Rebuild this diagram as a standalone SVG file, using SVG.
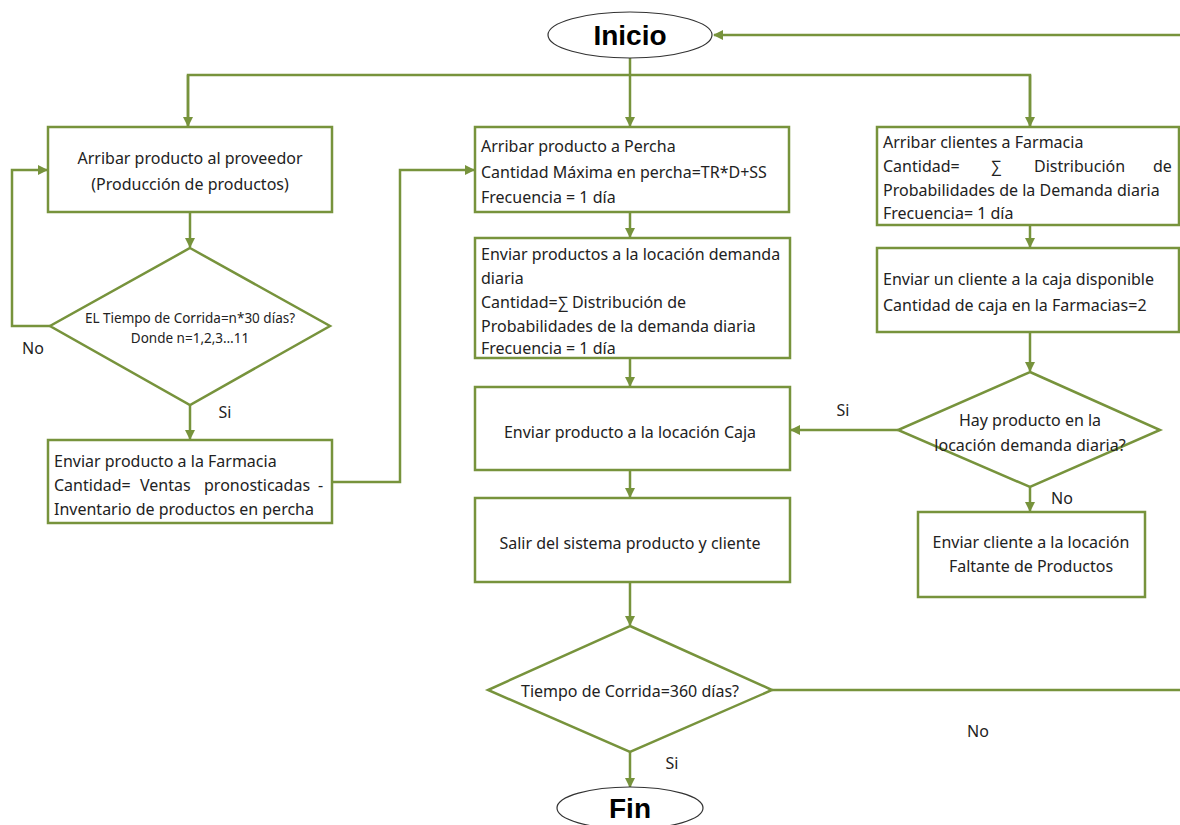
<svg xmlns="http://www.w3.org/2000/svg" width="1180" height="825" viewBox="0 0 1180 825">
<defs>
<marker id="ah" markerWidth="10" markerHeight="10" refX="9" refY="5" orient="auto" markerUnits="userSpaceOnUse">
<path d="M0,0 L10,5 L0,10 Z" fill="#77933C"/>
</marker>
<style>
.box{fill:#fff;stroke:#77933C;stroke-width:2.5}
.term{fill:#fff;stroke:#333;stroke-width:1.2}
.c{fill:none;stroke:#77933C;stroke-width:2.5}
.ca{fill:none;stroke:#77933C;stroke-width:2.5;marker-end:url(#ah)}
text{font-family:"Noto Sans","Open Sans",sans-serif;font-size:16px;fill:#222}
.m{text-anchor:middle}
.t{font-family:"Liberation Sans",Arial,sans-serif;font-weight:bold;font-size:28px;fill:#000;text-anchor:middle}
.s{font-size:13.5px}
</style>
</defs>
<rect width="1180" height="825" fill="#fff"/>
<g id="connectors">
<path class="ca" d="M1180,35 H714"/>
<path class="ca" d="M630,58 V126"/>
<path class="c" d="M188,126 V75 H1030 V126"/>
<path class="ca" d="M188,75 V126"/>
<path class="ca" d="M1030,75 V126"/>
<path class="ca" d="M190,212 V247"/>
<path class="ca" d="M50,326 H12 V170 H47"/>
<path class="ca" d="M190,405 V439"/>
<path class="ca" d="M332,482 H400 V170 H474"/>
<path class="ca" d="M630,212 V237"/>
<path class="ca" d="M630,358 V386"/>
<path class="ca" d="M630,470 V497"/>
<path class="ca" d="M630,582 V625"/>
<path class="c" d="M772,690 H1180"/>
<path class="ca" d="M630,752 V787"/>
<path class="ca" d="M1030,225 V247"/>
<path class="ca" d="M1030,332 V371"/>
<path class="ca" d="M898,430 H791"/>
<path class="ca" d="M1030,487 V511"/>
<text x="33" y="354" class="m">No</text>
<text x="225" y="418" class="m">Si</text>
<text x="843" y="416" class="m">Si</text>
<text x="1062" y="504" class="m">No</text>
<text x="978" y="737" class="m">No</text>
<text x="672" y="769" class="m">Si</text>
</g>
<g id="inicio">
<ellipse class="term" cx="630" cy="35" rx="82" ry="23"/>
<text class="t" x="630" y="45">Inicio</text>
</g>
<g id="proveedor">
<rect class="box" x="48" y="127" width="284" height="85"/>
<text class="m" x="190" y="164">Arribar producto al proveedor</text>
<text class="m" x="190" y="190">(Producción de productos)</text>
</g>
<g id="dec-tiempo-n">
<polygon class="box" points="190,248 330,326 190,405 50,326"/>
<text class="m s" x="190" y="323">EL Tiempo de Corrida=n*30 días?</text>
<text class="m s" x="190" y="343">Donde n=1,2,3…11</text>
</g>
<g id="enviar-farmacia">
<rect class="box" x="48" y="440" width="284" height="83"/>
<text x="54" y="467">Enviar producto a la Farmacia</text>
<text y="491"><tspan x="54">Cantidad=</tspan><tspan x="140">Ventas</tspan><tspan x="204">pronosticadas</tspan><tspan x="318">-</tspan></text>
<text x="54" y="515">Inventario de productos en percha</text>
</g>
<g id="percha">
<rect class="box" x="475" y="127" width="314" height="85"/>
<text x="481" y="152">Arribar producto a Percha</text>
<text x="481" y="178">Cantidad Máxima en percha=TR*D+SS</text>
<text x="481" y="203">Frecuencia = 1 día</text>
</g>
<g id="demanda">
<rect class="box" x="475" y="238" width="315" height="120"/>
<text x="481" y="260">Enviar productos a la locación demanda</text>
<text x="481" y="284">diaria</text>
<text x="481" y="308">Cantidad=∑ Distribución de</text>
<text x="481" y="332">Probabilidades de la demanda diaria</text>
<text x="481" y="354">Frecuencia = 1 día</text>
</g>
<g id="caja">
<rect class="box" x="475" y="387" width="315" height="83"/>
<text class="m" x="630" y="438">Enviar producto a la locación Caja</text>
</g>
<g id="salir">
<rect class="box" x="475" y="498" width="315" height="84"/>
<text class="m" x="630" y="549">Salir del sistema producto y cliente</text>
</g>
<g id="dec-360">
<polygon class="box" points="630,626 772,690 630,752 488,690"/>
<text class="m" x="630" y="697">Tiempo de Corrida=360 días?</text>
</g>
<g id="fin">
<ellipse class="term" cx="630" cy="808" rx="73" ry="21"/>
<text class="t" x="630" y="818">Fin</text>
</g>
<g id="clientes">
<rect class="box" x="877" y="127" width="302" height="98"/>
<text x="883" y="148">Arribar clientes a Farmacia</text>
<text y="172"><tspan x="883">Cantidad=</tspan><tspan x="991">∑</tspan><tspan x="1034">Distribución</tspan><tspan x="1153">de</tspan></text>
<text x="883" y="196">Probabilidades de la Demanda diaria</text>
<text x="883" y="219">Frecuencia= 1 día</text>
</g>
<g id="cliente-caja">
<rect class="box" x="877" y="248" width="302" height="84"/>
<text x="883" y="285">Enviar un cliente a la caja disponible</text>
<text x="883" y="311">Cantidad de caja en la Farmacias=2</text>
</g>
<g id="dec-hay">
<polygon class="box" points="1030,372 1160,430 1030,487 898,430"/>
<text class="m" x="1030" y="426">Hay producto en la</text>
<text class="m" x="1030" y="451">locación demanda diaria?</text>
</g>
<g id="faltante">
<rect class="box" x="918" y="512" width="227" height="85"/>
<text class="m" x="1031" y="548">Enviar cliente a la locación</text>
<text class="m" x="1031" y="572">Faltante de Productos</text>
</g>
</svg>
